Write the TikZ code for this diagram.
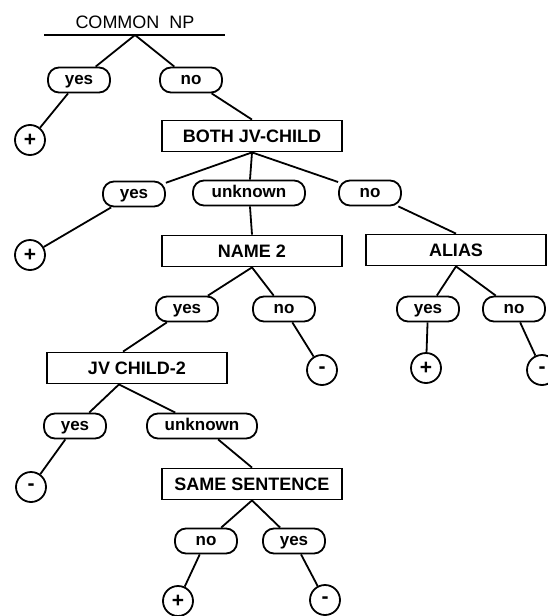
\documentclass[tikz,border=0pt]{standalone}
\usepackage{fontspec}
\setmainfont{Liberation Sans}
\begin{document}
\begin{tikzpicture}[x=1pt,y=-1pt,line width=1.8pt,
test/.style={draw,minimum width=180pt,minimum height=31pt,inner sep=2pt,font=\fontsize{18}{20}\selectfont\bfseries},
answer/.style={draw,rounded corners=11pt,minimum width=62pt,minimum height=25pt,inner sep=2pt,text height=9pt,text depth=0pt,font=\fontsize{17}{20}\selectfont\bfseries},
leaf/.style={draw,circle,minimum size=30pt,inner sep=0pt,font=\fontsize{21}{22}\selectfont\bfseries}]
\useasboundingbox (0,0) rectangle (548,616);
\node[font=\fontsize{18}{20}\selectfont] (np) at (135,22) {COMMON\ \ NP};
\coordinate (npl) at (44,35);
\coordinate (npr) at (225,35);
\coordinate (root) at (135,35);
\draw (npl) -- (npr);
%%%%
\node[test] (both) at (252,136) {BOTH JV-CHILD};
\node[test] (name) at (252,251) {NAME 2};
\node[test] (alias) at (456,250) {ALIAS};
\node[test] (jv) at (137,368) {JV CHILD-2};
\node[test] (same) at (252,484) {SAME SENTENCE};
\foreach \n/\x/\y/\t in {y1/79/80/yes,n1/191/80/no,y2/134/194/yes,n2/370/193/no,
y3/187/309/yes,n3/284/309/no,y5/428/309/yes,n5/514/309/no,y4/75/426/yes,
n6/206/541/no,y6/294/541/yes}
\node[answer] (\n) at (\x,\y) {\t};
\node[answer,minimum width=112pt] (u1) at (249,193) {unknown};
\node[answer,minimum width=110pt] (u2) at (202,426) {unknown};
\foreach \n/\x/\y/\t in {p1/30/140/+,p2/30/255/+,m1/322/370/-,p5/426/368/+,
m5/542/370/-,m4/31/487/-,p6/178/601/+,m6/325/600/-}
\node[leaf] (\n) at (\x,\y) {\t};
%%%%
\draw (root) -- (y1);
\draw (root) -- (n1);
\draw (y1) -- (p1);
\draw (n1) -- (both.north);
\draw (both.south) -- (y2);
\draw (both.south) -- (u1);
\draw (both.south) -- (n2);
\draw (y2) -- (p2);
\draw (u1) -- (name.north);
\draw (n2) -- (alias.north);
\draw (name.south) -- (y3);
\draw (name.south) -- (n3);
\draw (alias.south) -- (y5);
\draw (alias.south) -- (n5);
\draw (y5) -- (p5);
\draw (n5) -- (m5);
\draw (n3) -- (m1);
\draw (y3) -- ([xshift=-14pt]jv.north);
\draw ([xshift=-18pt]jv.south) -- (y4);
\draw ([xshift=-18pt]jv.south) -- (u2);
\draw (y4) -- (m4);
\draw (u2) -- (same.north);
\draw (same.south) -- (n6);
\draw (same.south) -- (y6);
\draw (n6) -- (p6);
\draw (y6) -- (m6);
\end{tikzpicture}
\end{document}
